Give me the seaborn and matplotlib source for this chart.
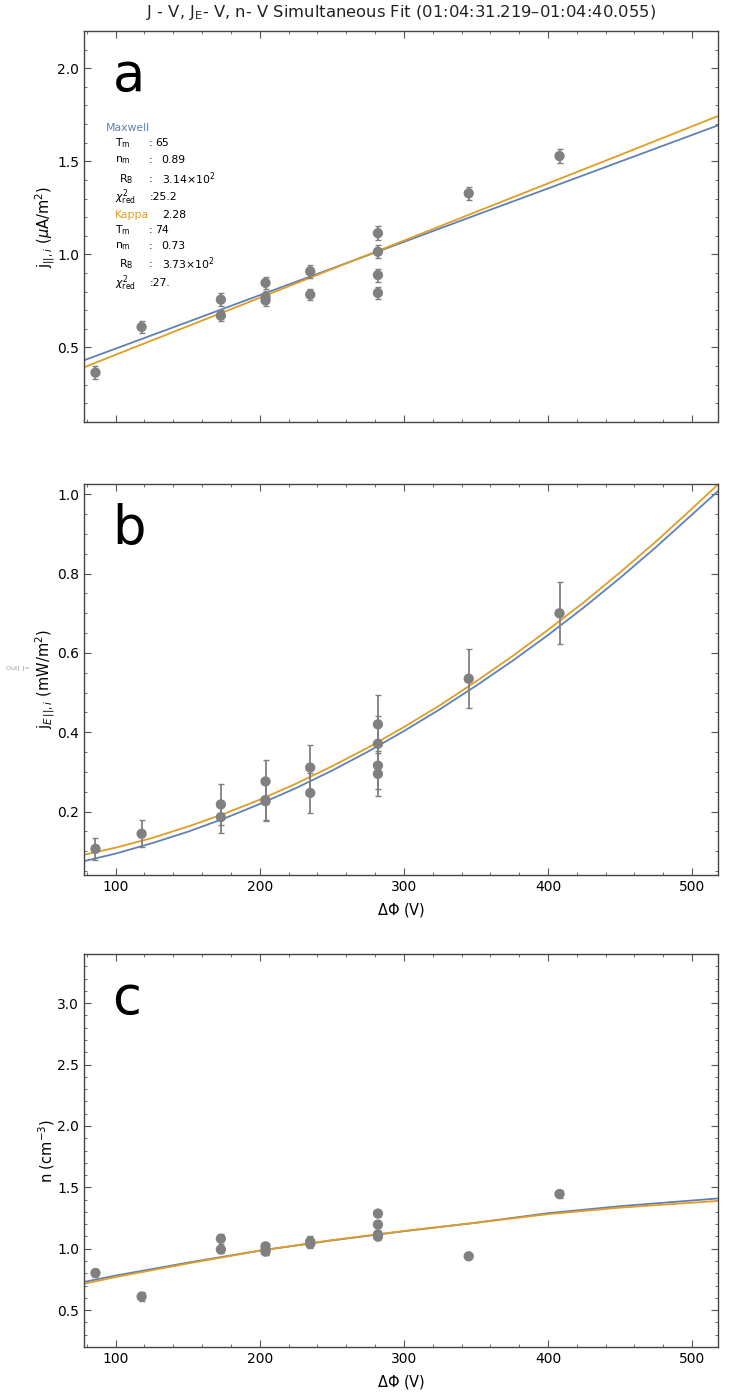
import numpy as np
import pandas as pd
import seaborn as sns
import matplotlib.pyplot as plt
from matplotlib.ticker import MultipleLocator

# measured points (potential drop in V)
dphi = [86, 118, 173, 173, 204, 204, 204, 235, 235, 282, 282, 282, 282, 345, 408]

# panel a: current density (uA/m^2)
j_par = [0.365, 0.61, 0.757, 0.671, 0.847, 0.772, 0.753, 0.909, 0.784,
         1.114, 1.014, 0.889, 0.793, 1.328, 1.528]
j_err = [0.033, 0.03, 0.035, 0.03, 0.032, 0.03, 0.03, 0.035, 0.03,
         0.036, 0.035, 0.035, 0.03, 0.036, 0.036]

# panel b: energy flux (mW/m^2)
je_par = [0.106, 0.144, 0.218, 0.186, 0.276, 0.229, 0.226, 0.311, 0.247,
          0.420, 0.371, 0.316, 0.295, 0.535, 0.700]
je_err = [0.028, 0.034, 0.052, 0.040, 0.053, 0.05, 0.05, 0.058, 0.05,
          0.073, 0.07, 0.06, 0.057, 0.075, 0.078]

# panel c: density (cm^-3)
n_dens = [0.803, 0.611, 1.082, 0.994, 1.02, 0.99, 0.977, 1.06, 1.04,
          1.287, 1.197, 1.117, 1.099, 0.939, 1.446]
n_err = [0.03, 0.035, 0.04, 0.03, 0.03, 0.03, 0.03, 0.04, 0.035,
         0.03, 0.03, 0.03, 0.03, 0.015, 0.03]

# fit curves
fit_v = [78, 100, 150, 200, 250, 300, 350, 400, 450, 518]
j_maxwell = [0.431, 0.494, 0.637, 0.781, 0.924, 1.067, 1.211, 1.354, 1.498, 1.693]
j_kappa = [0.393, 0.461, 0.614, 0.767, 0.921, 1.074, 1.228, 1.381, 1.534, 1.743]
n_maxwell = [0.730, 0.782, 0.887, 0.985, 1.068, 1.143, 1.212, 1.290, 1.347, 1.410]
n_kappa = [0.715, 0.770, 0.880, 0.985, 1.070, 1.145, 1.212, 1.282, 1.335, 1.390]

fit_v_b = [78, 100, 125, 150, 175, 200, 225, 250, 275, 300, 325, 350,
           375, 400, 425, 450, 475, 500, 518]
je_maxwell = [0.075, 0.094, 0.120, 0.149, 0.182, 0.219, 0.259, 0.303, 0.351,
              0.403, 0.458, 0.517, 0.579, 0.645, 0.715, 0.789, 0.867, 0.949, 1.008]
je_kappa = [0.091, 0.109, 0.133, 0.162, 0.194, 0.230, 0.270, 0.314, 0.361,
            0.413, 0.468, 0.528, 0.591, 0.658, 0.728, 0.803, 0.881, 0.964, 1.025]

blue = "#5E81B5"
orange = "#E19C24"
gray = "#808080"

sns.set_style("ticks")
plt.rcParams["font.family"] = ["DejaVu Sans"]
plt.rcParams["mathtext.fontset"] = "dejavusans"

fig = plt.figure(figsize=(7.47, 13.94), dpi=100)
left, width = 0.1124, 0.8488
ax_a = fig.add_axes([left, 0.6973, width, 0.2805])
ax_b = fig.add_axes([left, 0.3723, width, 0.2805])
ax_c = fig.add_axes([left, 0.0337, width, 0.2819])

panels = [
    (ax_a, j_par, j_err, fit_v, j_maxwell, j_kappa, (0.1, 2.2), 0.5, 0.1,
     r"j$_{||,i}$ ($\mu$A/m$^2$)", "a"),
    (ax_b, je_par, je_err, fit_v_b, je_maxwell, je_kappa, (0.04, 1.026), 0.2, 0.05,
     r"j$_{E\,||,i}$ (mW/m$^2$)", "b"),
    (ax_c, n_dens, n_err, fit_v, n_maxwell, n_kappa, (0.2, 3.4), 0.5, 0.1,
     r"n (cm$^{-3}$)", "c"),
]

for ax, y, yerr, fv, fm, fk, ylim, major, minor, ylab, letter in panels:
    df = pd.DataFrame({"dphi": dphi, "y": y, "err": yerr})
    fits = pd.DataFrame({"dphi": fv, "Maxwell": fm, "Kappa": fk})
    sns.lineplot(data=fits, x="dphi", y="Maxwell", ax=ax, color=blue, lw=1.3, zorder=2)
    sns.lineplot(data=fits, x="dphi", y="Kappa", ax=ax, color=orange, lw=1.3, zorder=2)
    ax.errorbar(df["dphi"], df["y"], yerr=df["err"], fmt="none", ecolor=gray,
                elinewidth=1.3, capsize=2, capthick=1, zorder=3)
    sns.scatterplot(data=df, x="dphi", y="y", ax=ax, color=gray, s=55,
                    edgecolor="none", zorder=4)
    ax.set_xlim(78, 518)
    ax.set_ylim(*ylim)
    ax.xaxis.set_major_locator(MultipleLocator(100))
    ax.xaxis.set_minor_locator(MultipleLocator(20))
    ax.yaxis.set_major_locator(MultipleLocator(major))
    ax.yaxis.set_minor_locator(MultipleLocator(minor))
    ax.tick_params(which="both", direction="in", top=True, right=True,
                   color="#555555", labelsize=10, labelcolor="black")
    ax.tick_params(which="major", length=5, width=0.8)
    ax.tick_params(which="minor", length=2.5, width=0.6)
    for sp in ax.spines.values():
        sp.set_color("#444444")
        sp.set_linewidth(1.0)
    ax.set_ylabel(ylab, fontsize=10.5, color="black")
    ax.yaxis.set_label_coords(-0.043, 0.5)
    ax.set_xlabel(r"$\Delta\Phi$ (V)", fontsize=10.5, labelpad=5, color="black")
    ax.text(0.045, 0.847, letter, transform=ax.transAxes, fontsize=38,
            va="baseline", ha="left", color="black")

ax_a.set_xlabel("")
ax_a.tick_params(labelbottom=False)

# fit parameter block
def put(x, y, s, color="black"):
    ax_a.text(x, y, s, transform=ax_a.transAxes, fontsize=7.8, color=color,
              va="center", ha="left")

rows = [
    (0.751, [(0.0347, "Maxwell", blue)]),
    (0.713, [(0.0489, r"T$_\mathrm{m}$", "black"), (0.1014, ":", "black"), (0.112, "65", "black")]),
    (0.670, [(0.0489, r"n$_\mathrm{m}$", "black"), (0.1014, ":", "black"), (0.1226, "0.89", "black")]),
    (0.621, [(0.0557, r"R$_\mathrm{B}$", "black"), (0.1014, ":", "black"), (0.1226, r"3.14$\times$10$^2$", "black")]),
    (0.575, [(0.0489, r"$\chi^2_\mathrm{red}$", "black"), (0.103, ":25.2", "black")]),
    (0.529, [(0.0489, "Kappa", orange), (0.1226, "2.28", "black")]),
    (0.491, [(0.0489, r"T$_\mathrm{m}$", "black"), (0.1014, ":", "black"), (0.112, "74", "black")]),
    (0.450, [(0.0489, r"n$_\mathrm{m}$", "black"), (0.1014, ":", "black"), (0.1226, "0.73", "black")]),
    (0.404, [(0.0557, r"R$_\mathrm{B}$", "black"), (0.1014, ":", "black"), (0.1226, r"3.73$\times$10$^2$", "black")]),
    (0.355, [(0.0489, r"$\chi^2_\mathrm{red}$", "black"), (0.103, ":27.", "black")]),
]
for yy, items in rows:
    for xx, s, c in items:
        put(xx, yy, s, c)

fig.text(0.537, 0.9912, r"J - V, J$_\mathrm{E}$- V, n- V Simultaneous Fit (01:04:31.219–01:04:40.055)",
         ha="center", va="center", fontsize=11.8, color="#222222")
fig.text(0.008, 0.521, "Out[ ]=", fontsize=4.5, color="#999999", va="center")

fig.savefig("out.png", dpi=100)
